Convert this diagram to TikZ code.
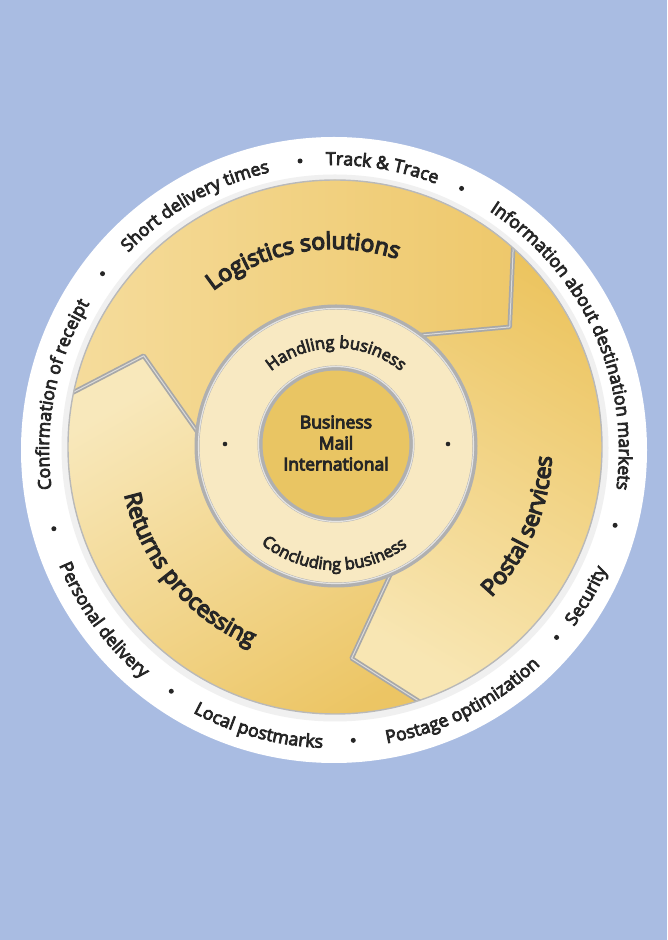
\documentclass[tikz,border=0pt]{standalone}
\usepackage{fontspec}
\setmainfont{Open Sans}
\newfontfamily\osmed{Open Sans}[FakeBold=4.5]
\newfontfamily\osbold{Open Sans}[FakeBold=5.5]
\usetikzlibrary{decorations.text}
\definecolor{bg}{HTML}{A9BCE2}
\definecolor{goldbase}{HTML}{EDC96B}
\definecolor{logL}{HTML}{F5DC9C}
\definecolor{logR}{HTML}{EEC86B}
\definecolor{posT}{HTML}{ECC45F}
\definecolor{posB}{HTML}{F8E6B3}
\definecolor{retT}{HTML}{F8E8BB}
\definecolor{retB}{HTML}{ECC564}
\definecolor{ringc}{HTML}{F8E9C2}
\definecolor{cdisk}{HTML}{E9C563}
\definecolor{textc}{HTML}{262626}
\newcommand{\outf}{\color{textc}\osmed\fontsize{17.8}{20}\selectfont}
\newcommand{\segf}{\color{textc}\osbold\fontsize{23}{26}\selectfont}
\newcommand{\innf}{\color{textc}\osmed\fontsize{16.5}{19}\selectfont}
\newcommand{\cwtext}[4]{\path[decorate,decoration={text along path,text align=center,text={|#3|#4}}] ({#1+60}:#2) arc[start angle={#1+60},end angle={#1-60},radius=#2];}
\newcommand{\ccwtext}[4]{\path[decorate,decoration={text along path,text align=center,text={|#3|#4}}] ({#1-60}:#2) arc[start angle={#1-60},end angle={#1+60},radius=#2];}
\tikzset{
  groove/.style={draw=gray!68, line width=4.5pt, line join=round},
  groovehi/.style={draw=gray!28, line width=1pt, line join=round},
  bullet/.style={fill=textc}
}
\begin{document}
\begin{tikzpicture}[x=1pt,y=1pt]
\useasboundingbox (0,0) rectangle (667,940);
\fill[bg] (0,0) rectangle (667,940);
% white disc
\fill[white] (334,490) circle[radius=313pt];
\draw[gray!12, line width=7pt] (335,492) circle[radius=270pt];
% gold ring with three segments
\begin{scope}[shift={(335,493)}]
  \begin{scope}
    \clip (0,0) circle[radius=267pt];
    \fill[goldbase] (0,0) circle[radius=267pt];
    % Logistics solutions
    \shade[left color=logL, right color=logR]
      (169:272pt) arc[start angle=169, end angle=49, radius=272pt]
      -- (34.5:212pt) -- (57:132pt) arc[start angle=57, end angle=177, radius=132pt]
      -- (154.5:212pt) -- cycle;
    % Postal services
    \shade[top color=posT, bottom color=posB, shading angle=-30]
      (49:272pt) arc[start angle=49, end angle=-71, radius=272pt]
      -- (-85.5:212pt) -- (-63:132pt) arc[start angle=-63, end angle=57, radius=132pt]
      -- (34.5:212pt) -- cycle;
    % Returns processing
    \shade[top color=retT, bottom color=retB, shading angle=30]
      (289:272pt) arc[start angle=289, end angle=169, radius=272pt]
      -- (154.5:212pt) -- (177:132pt) arc[start angle=177, end angle=297, radius=132pt]
      -- (274.5:212pt) -- cycle;
    % boundaries (arrow heads)
    \foreach \h in {34.5,154.5,274.5}{
      \path[groove] ({\h+14.5}:272pt) -- (\h:212pt) -- ({\h+22.5}:132pt);
      \path[groovehi] ({\h+14.5}:272pt) -- (\h:212pt) -- ({\h+22.5}:132pt);
    }
  \end{scope}
  \draw[gray!55, line width=1.4pt] (0,0) circle[radius=267pt];
  % segment labels
  \cwtext{99.8}{198pt}{\segf}{Logistics solutions}
  \ccwtext{336.8}{217pt}{\segf}{Postal services}
  \ccwtext{220}{216pt}{\segf}{Returns processing}
\end{scope}
% inner ring
\fill[ringc] (336,494) circle[radius=139pt];
\draw[gray!62, line width=5pt] (336,494) circle[radius=139pt];
\draw[gray!22, line width=1.2pt] (336,494) circle[radius=137.5pt];
% centre disc
\fill[cdisk] (336,496) circle[radius=75pt];
\draw[gray!62, line width=5pt] (336,496) circle[radius=76pt];
\draw[gray!22, line width=1.2pt] (336,496) circle[radius=77.5pt];
\node[font=\osbold\fontsize{17.5}{21}\selectfont, text=textc, align=center] (bmi) at (336,497) {Business\\Mail\\International};
% inner ring dots and texts
\fill[bullet] (225,496) circle[radius=2.3pt];
\fill[bullet] (448,496) circle[radius=2.3pt];
\begin{scope}[shift={(336,490)}]
  \cwtext{90}{102pt}{\innf}{Handling business}
  \ccwtext{269}{120pt}{\innf}{Concluding business}
\end{scope}
% outer ring texts
\begin{scope}[shift={(334,490)}]
  \cwtext{168.5}{285pt}{\outf}{Confirmation of receipt}
  \cwtext{119.6}{285pt}{\outf}{Short delivery times}
  \cwtext{80.3}{285pt}{\outf}{Track {\&} Trace}
  \cwtext{24.5}{285pt}{\outf}{Information about destination markets}
  \ccwtext{216.4}{298pt}{\outf}{Personal delivery}
  \ccwtext{254.8}{298pt}{\outf}{Local postmarks}
  \ccwtext{297}{298pt}{\outf}{Postage optimization}
  \ccwtext{330}{298pt}{\outf}{Security}
  \foreach \a in {195.7,236,273.8,319.9,345,64,96.7,142.7}{
    \fill[bullet] (\a:291pt) circle[radius=2.5pt];
  }
\end{scope}
\end{tikzpicture}
\end{document}
